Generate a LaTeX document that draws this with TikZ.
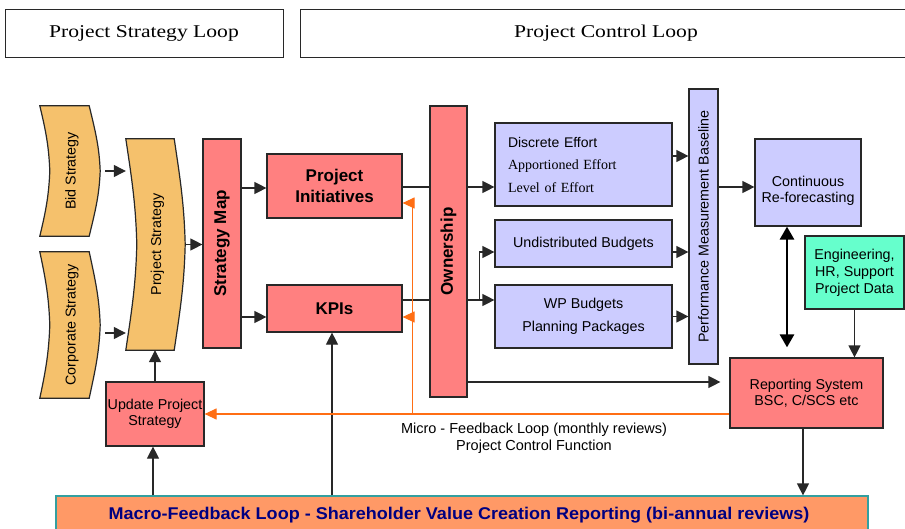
\documentclass[tikz,border=0pt]{standalone}
\usepackage{graphicx}
\usepackage{fontspec}
\setmainfont{Liberation Sans}
\newfontfamily\serifA{Liberation Serif}
\usetikzlibrary{arrows.meta,calc}
\definecolor{chev}{RGB}{245,193,108}
\definecolor{redbox}{RGB}{255,128,128}
\definecolor{lavbox}{RGB}{204,204,255}
\definecolor{mint}{RGB}{102,255,204}
\definecolor{macrofill}{RGB}{255,153,102}
\definecolor{tealb}{RGB}{51,160,160}
\definecolor{navyt}{RGB}{0,0,128}
\definecolor{orng}{RGB}{255,110,20}
\definecolor{edge}{RGB}{40,40,40}
\begin{document}
\begin{tikzpicture}[x=1pt,y=-1pt,
  box/.style={draw=edge, line width=1.2pt, inner sep=0pt, align=center},
  redb/.style={box, fill=redbox},
  lavb/.style={box, fill=lavbox},
  ghost/.style={inner sep=0pt},
  chevs/.style={draw=edge, line width=1.2pt, fill=chev},
  reg/.style={font=\fontsize{14.3}{16}\selectfont, align=center, inner sep=0pt},
  bld/.style={font=\bfseries\fontsize{17}{21}\selectfont, align=center, inner sep=0pt},
  hdr/.style={draw=edge, line width=0.8pt, inner sep=0pt, font=\serifA\fontsize{18}{20}\selectfont},
  arr/.style={draw=edge, line width=1.2pt, -{Triangle[length=12pt,width=12pt]}},
  oarr/.style={draw=orng, line width=1.2pt, -{Triangle[length=12pt,width=11pt]}},
  dbl/.style={draw=black, line width=2.8pt, {Triangle[length=13pt,width=14pt]}-{Triangle[length=13pt,width=14pt]}}
]
\clip (0,0) rectangle (905,529);
\fill[white] (0,0) rectangle (905,529);

% headers
\node[hdr, minimum width=278pt, minimum height=48pt] (hdrA) at (144,33) {\scalebox{1.2}[1]{Project Strategy Loop}};
\node[hdr, minimum width=612pt, minimum height=48pt] (hdrB) at (606,33) {\scalebox{1.2}[1]{Project Control Loop}};

% chevrons
\node[ghost, minimum width=60pt, minimum height=130pt] (bid) at (70,171) {};
\draw[chevs] (bid.north west) -- ([xshift=-11pt]bid.north east) .. controls +(6,25) and +(-1,-25) .. (bid.east) .. controls +(-1,25) and +(6,-25) .. ([xshift=-11pt]bid.south east) -- (bid.south west) .. controls +(6,-25) and +(-1,25) .. ([xshift=10pt]bid.west) .. controls +(-1,-25) and +(6,25) .. (bid.north west) -- cycle;
\node[reg, rotate=90] (bidT) at ([xshift=2pt]bid.center) {Bid Strategy};

\node[ghost, minimum width=60pt, minimum height=146pt] (corp) at (70,325) {};
\draw[chevs] (corp.north west) -- ([xshift=-11pt]corp.north east) .. controls +(6,28) and +(-1,-28) .. (corp.east) .. controls +(-1,28) and +(6,-28) .. ([xshift=-11pt]corp.south east) -- (corp.south west) .. controls +(6,-28) and +(-1,28) .. ([xshift=10pt]corp.west) .. controls +(-1,-28) and +(6,28) .. (corp.north west) -- cycle;
\node[reg, rotate=90] (corpT) at ([xshift=2pt]corp.center) {Corporate Strategy};

\node[ghost, minimum width=59pt, minimum height=211pt] (pstrat) at (155.5,244.5) {};
\draw[chevs] (pstrat.north west) -- ([xshift=-11pt]pstrat.north east) .. controls +(6,40) and +(-1,-40) .. (pstrat.east) .. controls +(-1,40) and +(6,-40) .. ([xshift=-11pt]pstrat.south east) -- (pstrat.south west) .. controls +(6,-40) and +(-1,40) .. ([xshift=11pt]pstrat.west) .. controls +(-1,-40) and +(6,40) .. (pstrat.north west) -- cycle;
\node[reg, rotate=90] (pstratT) at ([xshift=2pt]pstrat.center) {Project Strategy};

% red boxes
\node[redb, minimum width=38pt, minimum height=209pt] (smap) at (222,243.5) {};
\node[bld, rotate=90] (smapT) at (smap.center) {Strategy Map};
\node[redb, minimum width=135pt, minimum height=64pt, bld] (pi) at (334.5,186) {Project\\Initiatives};
\node[redb, minimum width=135pt, minimum height=47pt, bld] (kpi) at (334.5,308.5) {KPIs};
\node[redb, minimum width=37pt, minimum height=291pt] (own) at (448.5,251.5) {};
\node[bld, rotate=90] (ownT) at (own.center) {Ownership};
\node[redb, minimum width=153pt, minimum height=70pt, reg] (rep) at (806.5,393) {Reporting System\\BSC, C/SCS etc};
\node[redb, minimum width=98pt, minimum height=64pt, reg] (upd) at (155,414) {Update Project\\Strategy};

% lavender boxes
\node[lavb, minimum width=177pt, minimum height=83pt, align=left, text width=151pt, inner xsep=13pt,
  font=\fontsize{14}{22.5}\selectfont] (disc) at (583.5,164.5) {Discrete Effort\\{\serifA Apportioned Effort}\\{\serifA Level of Effort}};
\node[lavb, minimum width=177pt, minimum height=47pt, reg] (undist) at (583.5,243.5) {Undistributed Budgets};
\node[lavb, minimum width=177pt, minimum height=63pt, reg, font=\fontsize{14.3}{23}\selectfont] (wp) at (583.5,316.5) {WP Budgets\\Planning Packages};
\node[lavb, minimum width=29pt, minimum height=275pt] (pmb) at (703.5,226.5) {};
\node[reg, rotate=90] (pmbT) at (pmb.center) {Performance Measurement Baseline};
\node[lavb, minimum width=106pt, minimum height=87pt] (cont) at (808,182.5) {};
\node[reg] (contT) at ([yshift=-8.5pt]cont.center) {Continuous\\Re-forecasting};
\node[box, fill=mint, minimum width=99pt, minimum height=73pt, reg, font=\fontsize{14.3}{17}\selectfont] (eng) at (854.5,272.5) {Engineering,\\HR, Support\\Project Data};

% macro box
\node[draw=tealb, line width=1.2pt, fill=macrofill, minimum width=812pt, minimum height=44pt, inner sep=0pt] (macro) at (462,518) {};
\node[font=\bfseries\fontsize{17}{19}\selectfont, text=navyt, inner sep=0pt] (macroT) at (459,515) {\scalebox{1.06}[1]{Macro-Feedback Loop - Shareholder Value Creation Reporting (bi-annual reviews)}};

% micro text
\node[reg, font=\fontsize{14.5}{17}\selectfont] (micro) at (534,438.5) {Micro - Feedback Loop (monthly reviews)\\Project Control Function};

% connectors: strategy loop
\draw[arr] ([xshift=5pt]bid.east) -- (pstrat.west |- bid.east);
\coordinate (c1) at ([xshift=5pt,yshift=-8pt]corp.east);
\draw[arr] (c1) -- (pstrat.west |- c1);
\draw[arr] (pstrat.east) -- (smap.west |- pstrat.east);
\coordinate (p1) at ([yshift=-2pt]pi.west);
\draw[arr] (smap.east |- p1) -- (p1);
\coordinate (k1) at ([yshift=-8.5pt]kpi.west);
\draw[arr] (smap.east |- k1) -- (k1);
\draw[arr] (upd.north) -- (upd.north |- pstrat.south);
\coordinate (m1) at ([xshift=-2pt]upd.south);
\draw[arr] (macro.north -| m1) -- (m1);
\coordinate (m2) at ([xshift=-2.5pt]kpi.south);
\draw[arr] (macro.north -| m2) -- (m2);

% control loop
\coordinate (p2) at ([yshift=-1pt]pi.east);
\draw[draw=edge, line width=1.2pt] (p2) -- (own.west |- p2);
\draw[arr] (own.east |- p2) -- (disc.west |- p2);
\coordinate (k2) at ([yshift=8.5pt]kpi.east);
\draw[draw=edge, line width=1.2pt] (k2) -- (own.west |- k2);
\draw[arr] (own.east |- k2) -- (wp.west |- k2);
\coordinate (br) at ([xshift=12pt]own.east |- k2);
\coordinate (u1) at ([yshift=-8.5pt]undist.west);
\draw[arr] (br) |- (u1);
\coordinate (d1) at ([yshift=8.5pt]disc.east);
\draw[arr] (d1) -- (pmb.west |- d1);
\coordinate (u2) at ([yshift=-8.5pt]undist.east);
\draw[arr] (u2) -- (pmb.west |- u2);
\draw[arr] (wp.east) -- (pmb.west |- wp.east);
\coordinate (r0) at ([yshift=-4.5pt]cont.west);
\draw[arr] (pmb.east |- r0) -- (r0);
\coordinate (dx) at ([xshift=-21pt]cont.south);
\draw[dbl, shorten >=10pt] (dx) -- (dx |- rep.north);
\draw[arr] (eng.south) -- (eng.south |- rep.north);
\coordinate (r1) at ([yshift=11pt]rep.west);
\draw[arr, shorten >=9pt] (own.east |- r1) -- (r1);
\coordinate (r2) at ([xshift=-3.5pt]rep.south);
\draw[arr] (r2) -- (r2 |- macro.north);

% orange feedback
\draw[oarr] (rep.west |- upd.east) -- (upd.east);
\coordinate (o1) at ([yshift=-17pt]pi.east);
\coordinate (o1x) at ([xshift=10pt]o1);
\draw[draw=orng, line width=1.2pt] (o1x |- upd.east) -- (o1x);
\draw[oarr] (o1x) -- (o1);
\coordinate (o2) at ([yshift=-8.5pt]kpi.east);
\draw[oarr] (o2 -| o1x) -- (o2);
\end{tikzpicture}
\end{document}
